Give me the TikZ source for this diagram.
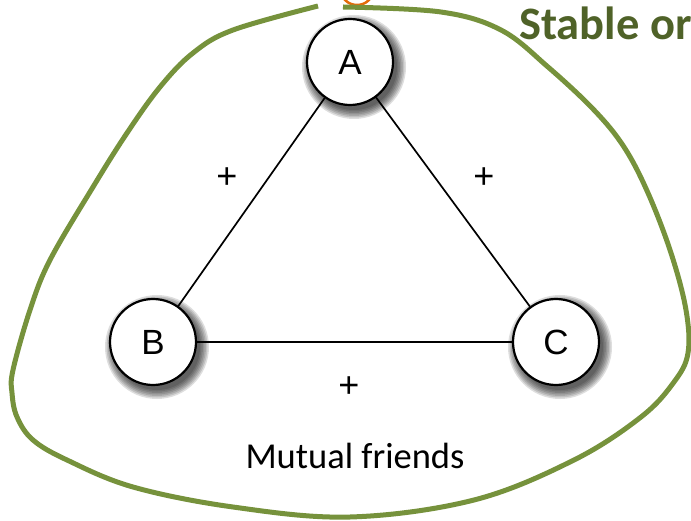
\documentclass[tikz,border=0pt]{standalone}
\usepackage{fontspec}
\setmainfont{Liberation Sans}
\newfontfamily\calibri{Carlito}
\definecolor{leaf}{RGB}{118,146,60}
\definecolor{moss}{RGB}{79,98,40}
\definecolor{rust}{RGB}{228,108,10}

\begin{document}
\begin{tikzpicture}[x=1pt,y=-1pt,
    friend/.style={circle,draw,line width=2.2pt,fill=white,minimum size=86pt,inner sep=0pt,
      font=\fontsize{35}{38}\selectfont},
    haze/.style={fill=black,opacity=0.13},
    tie/.style={line width=1.7pt},
    sign/.style={font=\fontsize{36}{38}\selectfont}]
        \useasboundingbox (0,0) rectangle (691,521);
        \draw[rust,line width=2.5pt] (357,-10) ellipse (16 and 15);
        \draw[leaf,line width=5pt] plot[smooth,tension=0.6] coordinates {(343,7) (441,12) (501,30) (548,67) (594,110) (624,147) (648,193) (671,253) (686,310) (688,353) (674,382) (641,417) (574,460) (474,500) (350,517) (233,507) (133,487) (67,460) (33,440) (17,417) (12,393) (13,370) (30,310) (50,260) (93,187) (127,133) (160,87) (193,53) (233,30) (318,6)};
        \node[font=\calibri\bfseries\fontsize{46.5}{50}\selectfont,text=moss,anchor=base west,inner sep=0pt] (title) at (519,40) {Stable or};
        \foreach \n/\p in {A/{350,62},B/{153,342},C/{556,342}}{
          \foreach \r in {43,44.5,...,53} \fill[haze] (\p) ++(4,5) circle (\r);
          \node[friend] (\n) at (\p) {\n};
        }
        \foreach \a/\b in {A/B,A/C,B/C} \draw[tie] (\a) -- (\b);
        \foreach \p [count=\i] in {{227,178},{484,178},{349,387}} \node[sign] (plus\i) at (\p) {+};
        \node[font=\calibri\fontsize{36.5}{40}\selectfont,anchor=base,inner sep=0pt] (caption) at (355,468) {Mutual friends};
      \end{tikzpicture}
\end{document}
